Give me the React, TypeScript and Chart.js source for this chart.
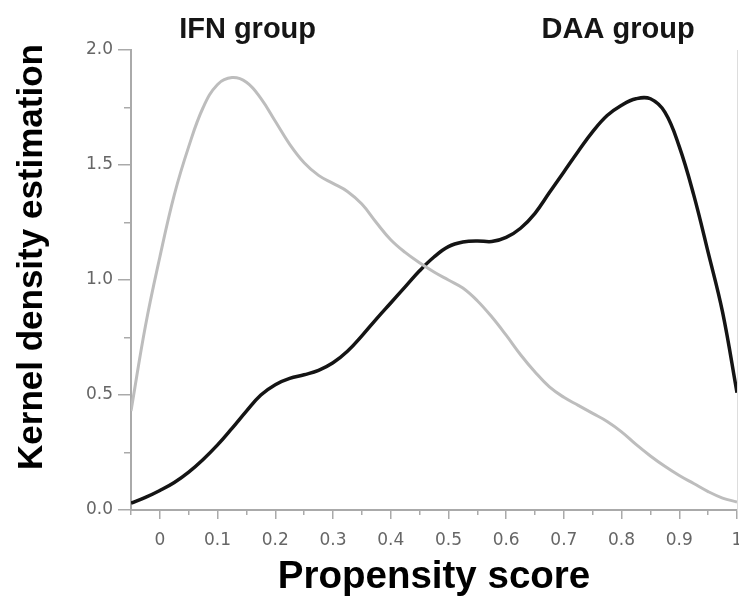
import React, { useEffect, useRef } from 'react';
import { Chart, registerables } from 'chart.js';

Chart.register(...registerables);

// Propensity score grid (x)
const PROPENSITY_SCORES = [
  -0.05, -0.025, 0, 0.025, 0.05, 0.075, 0.1, 0.125, 0.15, 0.175, 0.2, 0.225, 0.25, 0.275,
  0.3, 0.325, 0.35, 0.375, 0.4, 0.425, 0.45, 0.475, 0.5, 0.525, 0.55, 0.575, 0.6, 0.625,
  0.65, 0.675, 0.7, 0.725, 0.75, 0.775, 0.8, 0.825, 0.85, 0.875, 0.9, 0.925, 0.95, 0.975, 1.0,
];

// Kernel density, IFN group (grey)
const IFN_DENSITY = [
  0.43, 0.8, 1.1, 1.37, 1.58, 1.75, 1.85, 1.88, 1.86, 1.79, 1.69, 1.59, 1.51, 1.455,
  1.42, 1.385, 1.33, 1.25, 1.175, 1.12, 1.075, 1.035, 1.0, 0.965, 0.91, 0.84, 0.76, 0.675,
  0.6, 0.535, 0.49, 0.455, 0.42, 0.385, 0.34, 0.285, 0.235, 0.19, 0.15, 0.115, 0.08, 0.052, 0.035,
];

// Kernel density, DAA group (black)
const DAA_DENSITY = [
  0.03, 0.055, 0.085, 0.12, 0.165, 0.22, 0.283, 0.355, 0.43, 0.5, 0.545, 0.572, 0.588, 0.607,
  0.64, 0.69, 0.757, 0.83, 0.9, 0.97, 1.04, 1.1, 1.145, 1.165, 1.17, 1.167, 1.185, 1.225,
  1.29, 1.38, 1.47, 1.56, 1.645, 1.715, 1.76, 1.788, 1.788, 1.73, 1.58, 1.37, 1.12, 0.86, 0.51,
];

const X_MAJOR_TICKS = [0, 0.1, 0.2, 0.3, 0.4, 0.5, 0.6, 0.7, 0.8, 0.9, 1];
const X_MINOR_TICKS = [-0.05, 0.05, 0.15, 0.25, 0.35, 0.45, 0.55, 0.65, 0.75, 0.85, 0.95];
const Y_MAJOR_TICKS = [0, 0.5, 1, 1.5, 2];
const Y_MINOR_TICKS = [0.25, 0.75, 1.25, 1.75];

const GROUP_LABELS = ['IFN group', 'DAA group'];
const GROUP_LABEL_X = [0.152, 0.794];

const X_TITLE = 'Propensity score';
const Y_TITLE = 'Kernel density estimation';

const AXIS_COLOR = '#aaaaaa';
const TICK_COLOR = '#666666';

const annotationPlugin = {
  id: 'groupAndYTitle',
  afterDraw(chart: any) {
    const { ctx, scales, chartArea } = chart;
    ctx.save();
    ctx.fillStyle = '#151515';
    ctx.font = 'bold 29px "Liberation Sans", Arial, sans-serif';
    ctx.textAlign = 'center';
    ctx.textBaseline = 'alphabetic';
    GROUP_LABELS.forEach((t, i) => {
      ctx.fillText(t, scales.x.getPixelForValue(GROUP_LABEL_X[i]), chartArea.top - 12);
    });
    ctx.translate(42, (chartArea.top + chartArea.bottom) / 2 - 23);
    ctx.rotate(-Math.PI / 2);
    ctx.font = 'bold 35px "Liberation Sans", Arial, sans-serif';
    ctx.fillStyle = '#000000';
    ctx.fillText(Y_TITLE, 0, 0);
    ctx.restore();
  },
};

export default function App() {
  const canvasRef = useRef<HTMLCanvasElement | null>(null);

  useEffect(() => {
    if (!canvasRef.current) return;
    const tickFont = { family: '"DejaVu Sans", sans-serif', size: 17 };
    const chart = new Chart(canvasRef.current, {
      type: 'line',
      data: {
        datasets: [
          {
            label: 'IFN group',
            data: PROPENSITY_SCORES.map((x, i) => ({ x, y: IFN_DENSITY[i] })),
            borderColor: '#bdbdbd',
            borderWidth: 3,
            pointRadius: 0,
            fill: false,
            tension: 0.4,
            xAxisID: 'x',
            yAxisID: 'y',
          },
          {
            label: 'DAA group',
            data: PROPENSITY_SCORES.map((x, i) => ({ x, y: DAA_DENSITY[i] })),
            borderColor: '#141414',
            borderWidth: 3.5,
            pointRadius: 0,
            fill: false,
            tension: 0.4,
            xAxisID: 'x',
            yAxisID: 'y',
          },
        ],
      },
      options: {
        responsive: false,
        animation: false,
        devicePixelRatio: 1,
        layout: { padding: { top: 50, right: 18, bottom: 0, left: 0 } },
        plugins: {
          legend: { display: false },
          tooltip: { enabled: false },
        },
        scales: {
          x: {
            type: 'linear',
            position: 'bottom',
            weight: 1,
            min: -0.05,
            max: 1.0,
            afterBuildTicks: (s: any) => {
              s.ticks = X_MAJOR_TICKS.map((v) => ({ value: v }));
            },
            afterFit: (s: any) => {
              s.height = 90;
            },
            ticks: {
              color: TICK_COLOR,
              font: tickFont,
              padding: 11,
              maxRotation: 0,
              autoSkip: false,
              callback: (v: any) => String(Math.round(Number(v) * 10) / 10),
            },
            grid: { drawOnChartArea: false, tickLength: 9, color: AXIS_COLOR, lineWidth: 1.5 },
            border: { color: AXIS_COLOR, width: 2 },
            title: {
              display: true,
              text: X_TITLE,
              color: '#000000',
              font: { family: '"Liberation Sans", Arial, sans-serif', size: 38.5, weight: 'bold' },
              padding: { top: 0, bottom: 0 },
            },
          },
          xMinor: {
            type: 'linear',
            position: 'bottom',
            weight: 0,
            min: -0.05,
            max: 1.0,
            afterBuildTicks: (s: any) => {
              s.ticks = X_MINOR_TICKS.map((v) => ({ value: v }));
            },
            afterFit: (s: any) => {
              s.height = 0;
            },
            ticks: { display: false },
            grid: { drawOnChartArea: false, tickLength: 5, color: AXIS_COLOR, lineWidth: 1.5 },
            border: { display: false },
          },
          y: {
            type: 'linear',
            position: 'left',
            weight: 1,
            min: 0,
            max: 2,
            afterBuildTicks: (s: any) => {
              s.ticks = Y_MAJOR_TICKS.map((v) => ({ value: v }));
            },
            afterFit: (s: any) => {
              s.width = 131;
            },
            ticks: {
              color: TICK_COLOR,
              font: tickFont,
              padding: 5,
              callback: (v: any) => Number(v).toFixed(1),
            },
            grid: { drawOnChartArea: false, tickLength: 13, color: AXIS_COLOR, lineWidth: 1.5 },
            border: { color: AXIS_COLOR, width: 2 },
          },
          yMinor: {
            type: 'linear',
            position: 'left',
            weight: 0,
            min: 0,
            max: 2,
            afterBuildTicks: (s: any) => {
              s.ticks = Y_MINOR_TICKS.map((v) => ({ value: v }));
            },
            afterFit: (s: any) => {
              s.width = 0;
            },
            ticks: { display: false },
            grid: { drawOnChartArea: false, tickLength: 7, color: AXIS_COLOR, lineWidth: 1.5 },
            border: { display: false },
          },
          yRight: {
            type: 'linear',
            position: 'right',
            min: 0,
            max: 2,
            afterFit: (s: any) => {
              s.width = 0;
            },
            ticks: { display: false },
            grid: { display: false, drawTicks: false },
            border: { color: '#dddddd', width: 1 },
          },
        },
      } as any,
      plugins: [annotationPlugin],
    });
    return () => chart.destroy();
  }, []);

  return (
    <div
      style={{
        position: 'fixed',
        left: 0,
        top: 0,
        width: 739,
        height: 600,
        overflow: 'hidden',
        background: '#ffffff',
      }}
    >
      <canvas ref={canvasRef} width={755} height={600} style={{ width: 755, height: 600, display: 'block' }} />
    </div>
  );
}
